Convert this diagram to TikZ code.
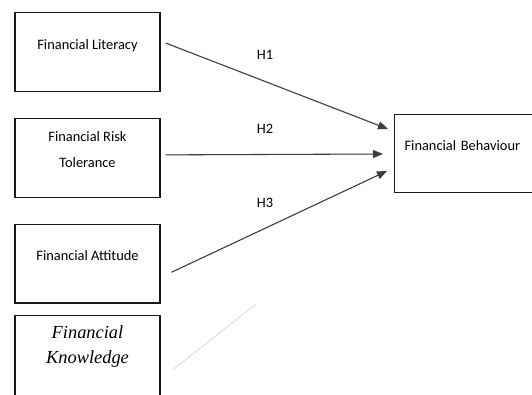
\documentclass[tikz,border=0pt]{standalone}
\usepackage{fontspec}
\setmainfont{Carlito}
\newfontfamily\serifit{Liberation Serif}
\usepackage{tikz}
\usetikzlibrary{positioning, calc, arrows.meta}
\definecolor{ink}{RGB}{25,25,25}
\definecolor{faint}{RGB}{205,205,205}
\tikzset{
  box/.style={draw=ink,line width=0.9pt,minimum width=108.75pt,minimum height=59pt,
    inner sep=2pt,align=center,text depth=12pt,font=\fontsize{10.8}{19.5}\selectfont},
  arr/.style={-{Triangle[length=7.5pt,width=6pt]},line width=0.8pt,draw=ink!85,fill=ink},
  lbl/.style={font=\fontsize{10.8}{13}\selectfont,inner sep=1pt},
}
\begin{document}
\begin{tikzpicture}[x=0.75pt,y=-0.75pt,node distance=19.5pt]
  \useasboundingbox (0,0) rectangle (532,394);
  % left column
  \node[box] (lit) at (87.5,52) {Financial Literacy};
  \node[box,below=of lit] (risk) {Financial Risk\\Tolerance};
  \node[box,below=of risk] (att) {Financial Attitude};
  \node[box,below=8.25pt of att,minimum height=75pt,text depth=31pt,
    font=\serifit\itshape\fontsize{13.8}{18.75}\selectfont] (know) {Financial\\Knowledge};
  % outcome
  \node[box,anchor=west,align=left,text width=110pt,inner xsep=7.5pt] (beh)
    at (394,153.5) {Financial Behaviour};
  \coordinate (fk) at (256,304);
  % paths
  \draw[arr] ([shift={(5,-9)}]lit.east) -- ([shift={(-6,-24.5)}]beh.west);
  \draw[arr] ([shift={(5,-3)}]risk.east) -- ([shift={(-11,0.5)}]beh.west);
  \draw[arr] ([shift={(11,8.5)}]att.east) -- ([shift={(-7,17.5)}]beh.west);
  \draw[faint,line width=0.4pt] ([shift={(13,4)}]know.east) -- (fk);
  \node[lbl] (h1) at (265,55) {H1};
  \node[lbl] (h2) at (265,129) {H2};
  \node[lbl] (h3) at (265,203) {H3};
\end{tikzpicture}
\end{document}
